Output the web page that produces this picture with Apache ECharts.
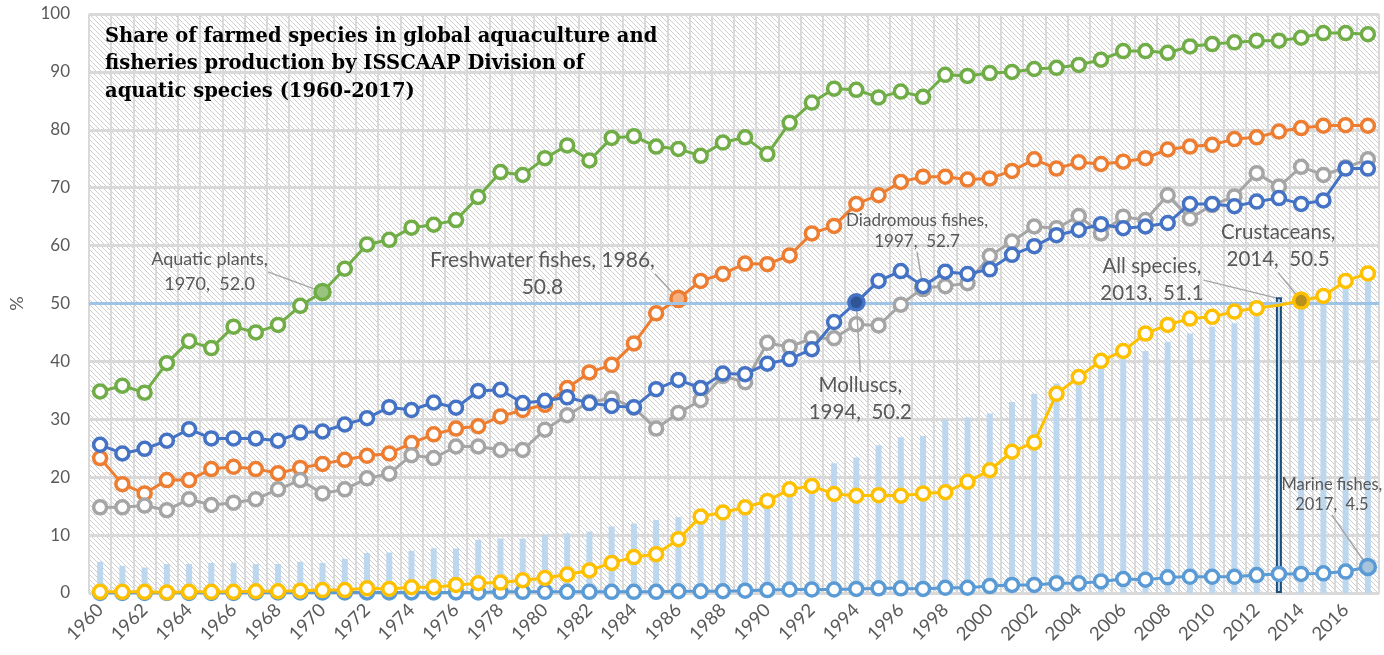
<!DOCTYPE html>
<html>
<head>
<meta charset="utf-8">
<script src="https://cdn.jsdelivr.net/npm/echarts@6/dist/echarts.min.js"></script>
<style>
html,body{margin:0;padding:0;background:#fff;}
#chart{width:1384px;height:655px;}
</style>
</head>
<body>
<div id="chart"></div>
<script>
var years = [];
for (var y = 1960; y <= 2017; y++) years.push(String(y));

var aquaticPlants = [34.8,35.8,34.6,39.7,43.5,42.3,46.0,45.0,46.3,49.6,
  52.0,56.0,60.2,61.0,63.1,63.6,64.4,68.4,72.7,72.2,
  75.1,77.3,74.7,78.6,78.9,77.1,76.7,75.5,77.8,78.7,
  75.8,81.2,84.7,87.1,86.9,85.6,86.6,85.7,89.5,89.3,
  89.8,90.0,90.5,90.7,91.2,92.1,93.6,93.6,93.3,94.4,
  94.8,95.1,95.4,95.4,95.9,96.7,96.7,96.5];
var freshwaterFishes = [23.3,18.8,17.2,19.5,19.5,21.4,21.8,21.4,20.7,21.6,
  22.3,23.0,23.7,24.1,25.9,27.4,28.4,28.8,30.5,31.6,
  32.5,35.4,38.1,39.4,43.1,48.3,50.8,53.9,55.1,56.9,
  56.8,58.3,62.1,63.4,67.2,68.7,71.0,71.9,71.9,71.4,
  71.6,72.9,74.9,73.3,74.4,74.1,74.5,75.1,76.6,77.1,
  77.4,78.4,78.7,79.7,80.3,80.7,80.8,80.7];
var molluscs = [25.6,24.1,24.9,26.3,28.3,26.7,26.7,26.7,26.3,27.7,
  27.9,29.1,30.2,32.1,31.6,32.9,32.0,34.9,35.1,32.8,
  33.2,33.8,32.8,32.3,32.1,35.2,36.8,35.4,37.9,37.8,
  39.6,40.4,42.1,46.8,50.2,53.9,55.6,53.0,55.5,55.1,
  55.9,58.4,59.9,61.8,62.7,63.7,63.0,63.3,63.9,67.2,
  67.2,66.8,67.6,68.2,67.2,67.8,73.3,73.3];
var diadromousFishes = [14.8,14.8,15.1,14.3,16.2,15.2,15.6,16.2,17.9,19.5,
  17.2,17.9,19.8,20.6,23.8,23.3,25.3,25.3,24.7,24.7,
  28.2,30.7,33.0,33.6,32.0,28.4,31.1,33.3,37.5,36.4,
  43.2,42.5,44.0,44.0,46.4,46.2,49.8,52.7,53.0,53.5,
  58.2,60.7,63.3,63.0,65.1,62.1,65.0,64.4,68.7,64.7,
  67.0,68.5,72.5,70.2,73.6,72.2,73.5,74.9];
var crustaceans = [0.2,0.2,0.2,0.1,0.2,0.2,0.2,0.3,0.3,0.4,
  0.5,0.5,0.8,0.7,1.0,1.0,1.4,1.7,1.8,2.2,
  2.6,3.2,3.9,5.2,6.2,6.7,9.3,13.2,13.9,14.8,
  15.9,17.9,18.5,17.1,16.8,16.9,16.8,17.2,17.4,19.2,
  21.2,24.4,26.0,34.4,37.3,40.1,41.8,44.8,46.3,47.4,
  47.7,48.6,49.2,49.7,50.5,51.3,53.9,55.2];
var marineFishes = [0.0,0.0,0.0,0.0,0.0,0.0,0.0,0.1,0.1,0.1,
  0.1,0.1,0.1,0.1,0.1,0.1,0.1,0.1,0.2,0.2,
  0.2,0.2,0.2,0.2,0.2,0.2,0.3,0.3,0.3,0.4,
  0.5,0.6,0.6,0.6,0.7,0.8,0.8,0.7,0.9,0.9,
  1.2,1.4,1.4,1.7,1.7,2.0,2.4,2.3,2.7,2.8,
  2.8,2.8,3.1,3.3,3.3,3.4,3.7,4.5];
var allSpecies = [5.4,4.7,4.4,5.0,5.0,5.2,5.2,5.0,5.0,5.4,
  5.2,5.9,6.9,7.0,7.3,7.7,7.7,9.2,9.4,9.4,
  10.0,10.3,10.6,11.5,12.0,12.6,13.1,13.6,14.1,14.6,
  15.6,16.6,17.5,22.4,23.4,25.5,26.9,27.1,30.0,30.3,
  31.0,33.0,34.4,36.2,37.0,39.0,40.4,41.8,43.4,44.8,
  46.0,46.6,48.0,51.1,51.8,52.5,53.2,54.3];
var thresholdValue = 50;

var titleText = 'Share of farmed species in global aquaculture and\nfisheries production by ISSCAAP Division of\naquatic species (1960-2017)';

// annotations: series name, year, label text
var annotations = {
  'Aquatic plants': {year: '1970', text: 'Aquatic plants,\n1970,  52.0'},
  'Freshwater fishes': {year: '1986', text: 'Freshwater fishes, 1986,\n50.8'},
  'Diadromous fishes': {year: '1997', text: 'Diadromous fishes,\n1997,  52.7'},
  'Molluscs': {year: '1994', text: 'Molluscs,\n1994,  50.2'},
  'All species': {year: '2013', text: 'All species,\n2013,  51.1'},
  'Crustaceans': {year: '2014', text: 'Crustaceans,\n2014,  50.5'},
  'Marine fishes': {year: '2017', text: 'Marine fishes,\n2017,  4.5'}
};

// label offsets / styles (layout only)
var labelStyle = {
  'Aquatic plants': {dx: -113, dy: -20, size: 18, lh: 25, fill: '#98c47f'},
  'Freshwater fishes': {dx: -136, dy: -25, size: 21, lh: 27, fill: '#f4b183'},
  'Diadromous fishes': {dx: -6, dy: -57, size: 17, lh: 21, fill: '#8a8a8a'},
  'Molluscs': {dx: 4, dy: 97, size: 20.5, lh: 27, fill: '#2f5597'},
  'All species': {dx: -127, dy: -17, size: 20.5, lh: 27, fill: '#bdd7ee'},
  'Crustaceans': {dx: -23, dy: -55, size: 20.5, lh: 27, fill: '#b8901c'},
  'Marine fishes': {dx: -36, dy: -72, size: 16.5, lh: 20, fill: '#a8c3dc'}
};

var FONT = 'Lato';

function buildData(name, values, isBar) {
  var ann = annotations[name];
  var st = labelStyle[name];
  return values.map(function (v, i) {
    var item = {value: v};
    if (ann && years[i] === ann.year) {
      item.label = {
        show: true, position: 'inside', formatter: ann.text,
        fontFamily: FONT, fontSize: st.size, lineHeight: st.lh,
        color: '#595959', align: 'center'
      };
      item.labelLine = {show: true};
      if (isBar) {
        item.itemStyle = {borderColor: '#1f4e79', borderWidth: 2};
      } else {
        item.itemStyle = {color: st.fill};
        item.symbolSize = 15;
      }
    }
    if (name === 'Crustaceans' && years[i] === '2013') {
      item.symbol = 'none';
    }
    return item;
  });
}

function layoutFor(name, isBar) {
  return function (params) {
    var st = labelStyle[name];
    var r = params.rect;
    var cx = r.x + r.width / 2;
    var cy = isBar ? r.y : r.y + r.height / 2;
    return {
      x: cx + st.dx, y: cy + st.dy,
      align: 'center', verticalAlign: 'middle'
    };
  };
}

function lineSeries(name, values, color, z) {
  return {
    name: name, type: 'line', data: buildData(name, values, false),
    symbol: 'circle', symbolSize: 13, z: z,
    itemStyle: {color: '#ffffff', borderColor: color, borderWidth: 3.5},
    lineStyle: {color: color, width: 3},
    labelLine: {show: true, lineStyle: {color: '#a6a6a6', width: 1.5}},
    labelLayout: layoutFor(name, false),
    emphasis: {disabled: true},
    animation: false
  };
}

var hatch = document.createElement('canvas');
hatch.width = 5; hatch.height = 5;
(function () {
  var c = hatch.getContext('2d');
  c.fillStyle = '#ffffff'; c.fillRect(0, 0, 5, 5);
  c.strokeStyle = '#cfcfcf'; c.lineWidth = 1;
  c.beginPath();
  c.moveTo(-1, -1); c.lineTo(6, 6);
  c.moveTo(-1, 4); c.lineTo(1, 6);
  c.moveTo(4, -1); c.lineTo(6, 1);
  c.stroke();
})();

var chart = echarts.init(document.getElementById('chart'), null, {renderer: 'canvas'});
chart.setOption({
  animation: false,
  backgroundColor: '#ffffff',
  title: {
    text: titleText, left: 105, top: 23, padding: 0,
    textStyle: {fontFamily: 'DejaVu Serif', fontWeight: 'bold', fontSize: 19.5, lineHeight: 27.5, color: '#000'}
  },
  grid: {
    left: 86, right: 5, top: 14, bottom: 62, show: true,
    backgroundColor: {image: hatch, repeat: 'repeat'}, borderWidth: 0
  },
  xAxis: {
    type: 'category', data: years, boundaryGap: true,
    axisTick: {show: false},
    axisLine: {lineStyle: {color: '#d9d9d9', width: 2}},
    axisLabel: {interval: 1, rotate: 45, fontFamily: FONT, fontSize: 18.5, color: '#595959', margin: 14},
    splitLine: {show: true, interval: 0, lineStyle: {color: '#d9d9d9', width: 2}}
  },
  yAxis: {
    type: 'value', min: 0, max: 100, interval: 10,
    name: '%', nameLocation: 'middle', nameGap: 63, nameRotate: 90,
    nameTextStyle: {fontFamily: FONT, fontSize: 18, color: '#595959'},
    axisLine: {show: false}, axisTick: {show: false},
    axisLabel: {fontFamily: FONT, fontSize: 17, color: '#595959', margin: 19},
    splitLine: {lineStyle: {color: '#d9d9d9', width: 3}}
  },
  series: [
    {
      name: 'All species', type: 'bar', data: buildData('All species', allSpecies, true),
      barWidth: 6, z: 2, itemStyle: {color: '#bdd7ee'},
      labelLine: {show: true, lineStyle: {color: '#a6a6a6', width: 1.5}},
      labelLayout: layoutFor('All species', true),
      emphasis: {disabled: true},
      markLine: {
        silent: true, symbol: 'none', label: {show: false},
        lineStyle: {color: '#9dc3e6', width: 3, type: 'solid'},
        data: [{yAxis: thresholdValue}]
      }
    },
    lineSeries('Marine fishes', marineFishes, '#5b9bd5', 3),
    lineSeries('Freshwater fishes', freshwaterFishes, '#ed7d31', 4),
    lineSeries('Diadromous fishes', diadromousFishes, '#a5a5a5', 5),
    lineSeries('Molluscs', molluscs, '#4472c4', 6),
    lineSeries('Crustaceans', crustaceans, '#ffc000', 7),
    lineSeries('Aquatic plants', aquaticPlants, '#70ad47', 8)
  ]
});
</script>
</body>
</html>
